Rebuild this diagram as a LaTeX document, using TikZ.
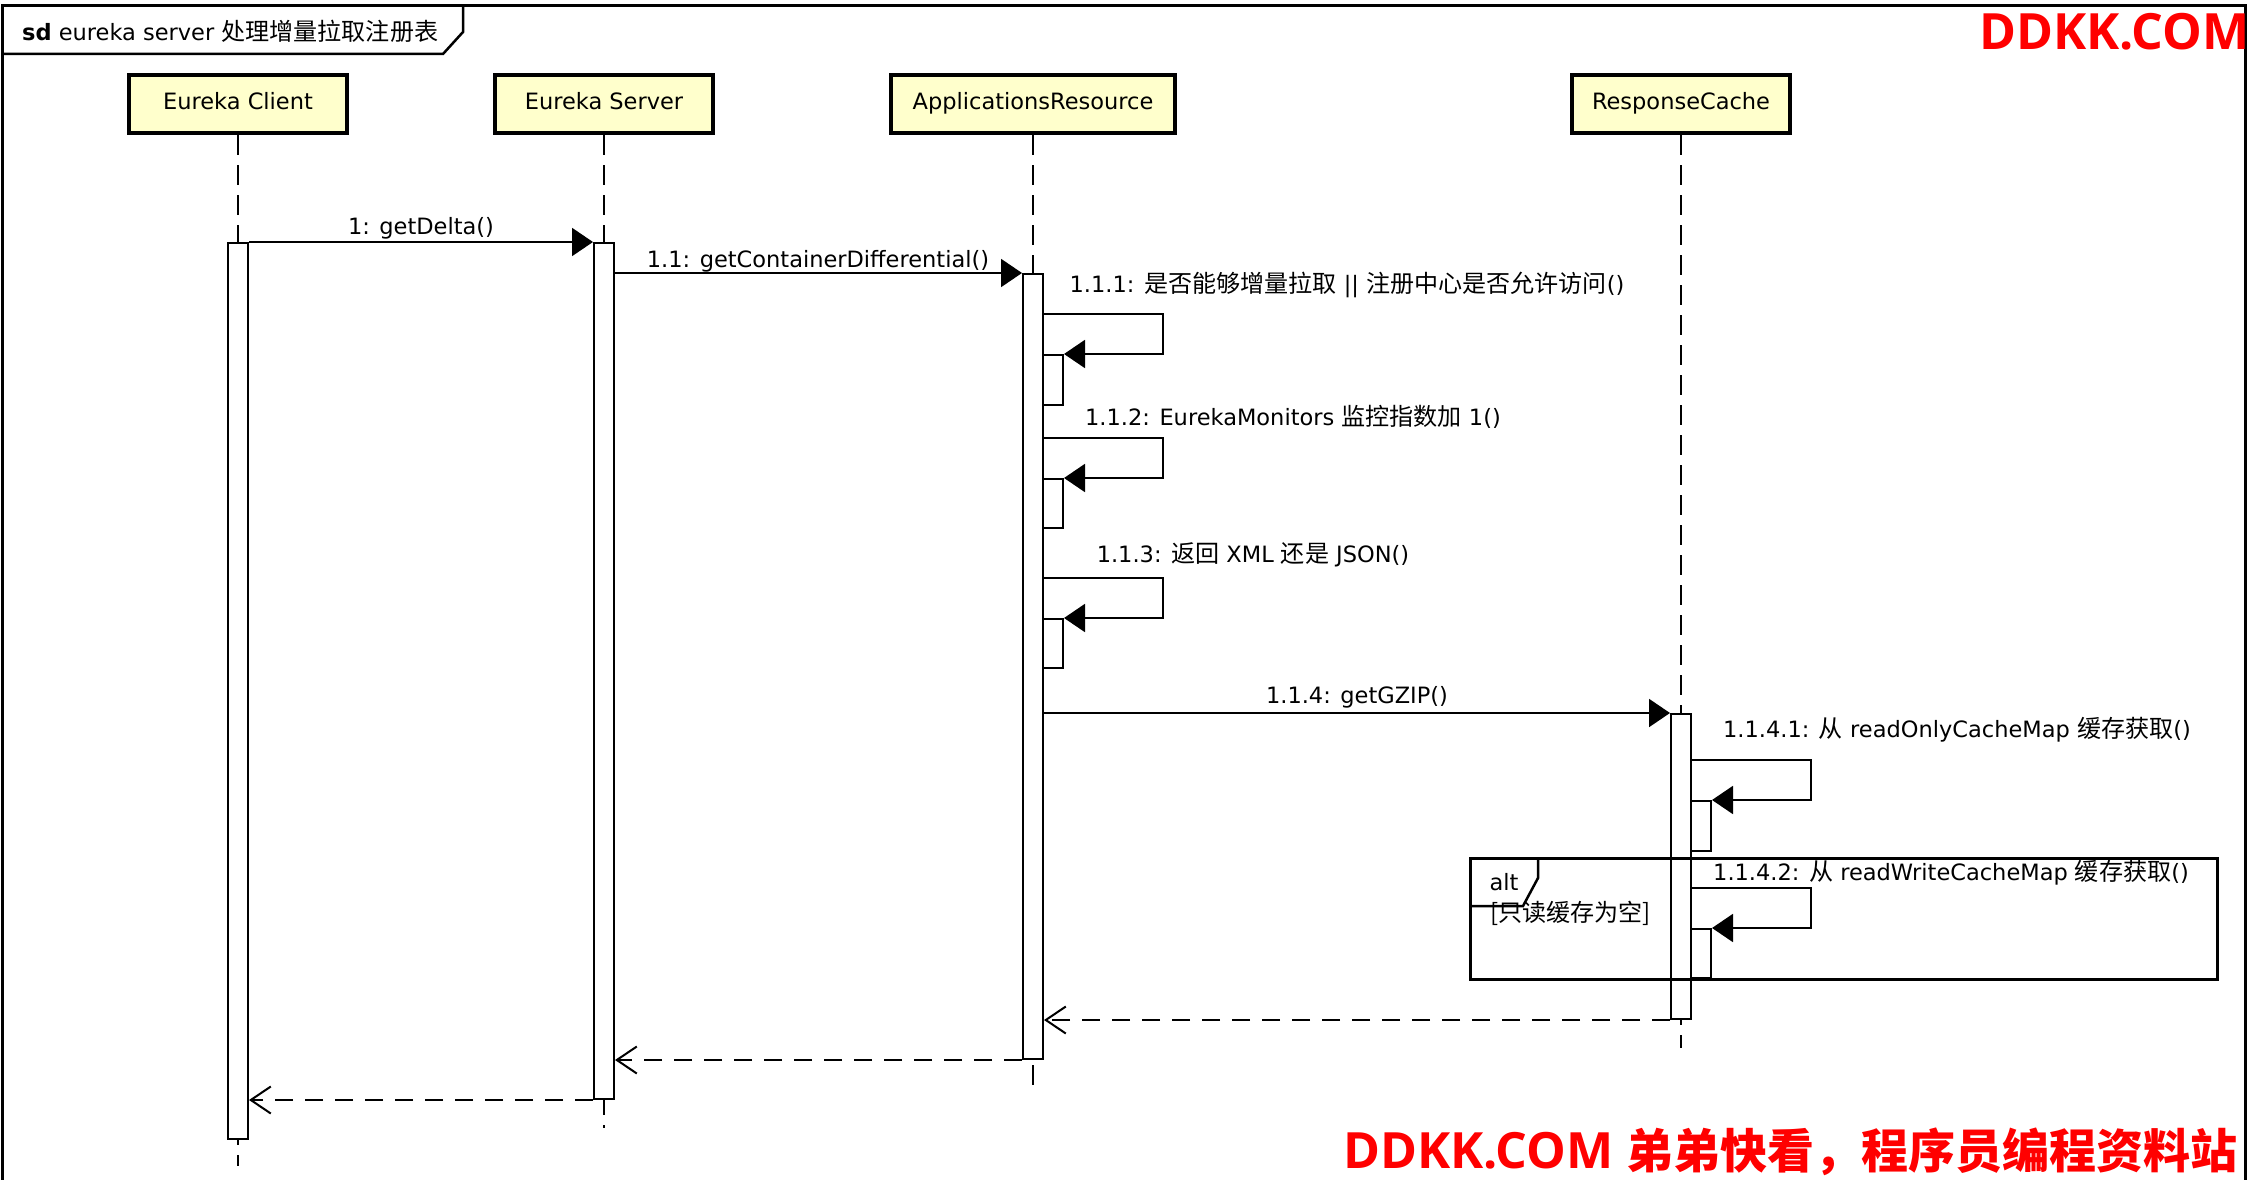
\documentclass[tikz,border=0pt]{standalone}
\usepackage{fontspec}
\setmainfont{DejaVu Sans}
\newfontfamily\zhfont{Noto Sans CJK SC}[Scale=1.07]
\newfontfamily\wmfont{Open Sans}
\newfontfamily\wmzh{Noto Sans CJK SC}
\newcommand\zh[1]{{\zhfont #1}}
\usetikzlibrary{arrows.meta}
\definecolor{partfill}{HTML}{FFFFCC}
\definecolor{wmred}{HTML}{FF0000}
\begin{document}
\begin{tikzpicture}[x=1pt,y=-1pt,
  every node/.style={font=\fontsize{22.5}{27}\selectfont, inner sep=0pt},
  part/.style={draw, line width=4.5pt, fill=partfill, minimum width=218pt, minimum height=58pt, text height=16pt, text depth=5pt},
  lifeln/.style={line width=1.5pt, dash pattern=on 20pt off 10pt},
  actbar/.style={draw, line width=2pt, fill=white, minimum width=20pt, anchor=north},
  msg/.style={line width=2pt, -{Triangle[length=21pt,width=28pt]}},
  ret/.style={line width=2pt, dash pattern=on 18pt off 12pt, -{Straight Barb[length=20pt,width=27pt]}},
  framel/.style={line width=2.5pt},
  wm/.style={text=wmred, font=\fontsize{50}{60}\selectfont\bfseries}
]
\useasboundingbox (0,0) rectangle (2254,1180);
\fill[white] (0,0) rectangle (2254,1180);

% outer frame and title tab
\draw[line width=3pt] (2,1190) -- (2,6) -- (2245,6) -- (2245,1190);
\draw[framel] (2,54) -- (443,54) -- (463,32) -- (463,6);
\node[anchor=west] (title) at (22,31) {\textbf{sd} eureka server \zh{处理增量拉取注册表}};

% participants
\node[part] (pC) at (238,104) {Eureka Client};
\node[part] (pS) at (604,104) {Eureka Server};
\node[part, minimum width=284pt] (pA) at (1033,104) {ApplicationsResource};
\node[part] (pR) at (1681,104) {ResponseCache};

% lifeline ends
\coordinate (eC) at (238,1166);
\coordinate (eS) at (604,1128);
\coordinate (eA) at (1033,1088);
\coordinate (eR) at (1681,1048);
\draw[lifeln] (pC.south) -- (eC);
\draw[lifeln] (pS.south) -- (eS);
\draw[lifeln] (pA.south) -- (eA);
\draw[lifeln] (pR.south) -- (eR);

% activation bars
\node[actbar, minimum height=896pt] (aC) at (238,242) {};
\node[actbar, minimum height=856pt] (aS) at (604,242) {};
\node[actbar, minimum height=785pt] (aA) at (1033,273) {};
\node[actbar, minimum height=305pt] (aR) at (1681,713) {};
\node[actbar, minimum height=50pt] (n1) at (1053,354) {};
\node[actbar, minimum height=49pt] (n2) at (1053,478) {};
\node[actbar, minimum height=49pt] (n3) at (1053,618) {};
\node[actbar, minimum height=50pt] (n4) at (1701,800) {};
\node[actbar, minimum height=49pt] (n5) at (1701,928) {};

% messages
\draw[msg] (aC.north east) -- (aS.north west);
\node (l1) at (421,228) {1: getDelta()};
\draw[msg] (aS.east |- aA.north) -- (aA.north west);
\node (l11) at (818,261) {1.1: getContainerDifferential()};

\draw[msg] (n1.north west) ++(0,-40) -- ++(121,0) -- ++(0,40) -- (n1.north east);
\node (l111) at (1347,285) {1.1.1: \zh{是否能够增量拉取} || \zh{注册中心是否允许访问}()};
\draw[msg] (n2.north west) ++(0,-40) -- ++(121,0) -- ++(0,40) -- (n2.north east);
\node (l112) at (1293,417) {1.1.2: EurekaMonitors \zh{监控指数加} 1()};
\draw[msg] (n3.north west) ++(0,-40) -- ++(121,0) -- ++(0,40) -- (n3.north east);
\node (l113) at (1253,555) {1.1.3: \zh{返回} XML \zh{还是} JSON()};

\draw[msg] (aA.east |- aR.north) -- (aR.north west);
\node (l114) at (1357,697) {1.1.4: getGZIP()};

\draw[msg] (n4.north west) ++(0,-40) -- ++(121,0) -- ++(0,40) -- (n4.north east);
\node (l1141) at (1957,730) {1.1.4.1: \zh{从} readOnlyCacheMap \zh{缓存获取}()};

% alt fragment
\node[draw, line width=2.5pt, minimum width=747pt, minimum height=121pt, anchor=north west] (alt) at (1469,857) {};
\draw[framel] (1469,906) -- (1523,906) -- (1538,878) -- (1538,857);
\node (altl) at (1504,882) {alt};
\node[anchor=west] (guard) at (1490,913) {\zh{[只读缓存为空]}};

\draw[msg] (n5.north west) ++(0,-40) -- ++(121,0) -- ++(0,40) -- (n5.north east);
\node (l1142) at (1951,873) {1.1.4.2: \zh{从} readWriteCacheMap \zh{缓存获取}()};

% returns
\draw[ret] (aR.south west) -- (aA.east |- aR.south);
\draw[ret] (aA.south west) -- (aS.east |- aA.south);
\draw[ret] (aS.south west) -- (aC.east |- aS.south);

% watermarks
\node[wm, anchor=base west] (wm1) at (1979,50) {\wmfont DDKK.COM};
\node[wm, anchor=base west] (wm2) at (1343,1168) {\wmfont DDKK.COM {\wmzh\fontsize{47}{56}\selectfont 弟弟快看，程序员编程资料站}};
\end{tikzpicture}
\end{document}
